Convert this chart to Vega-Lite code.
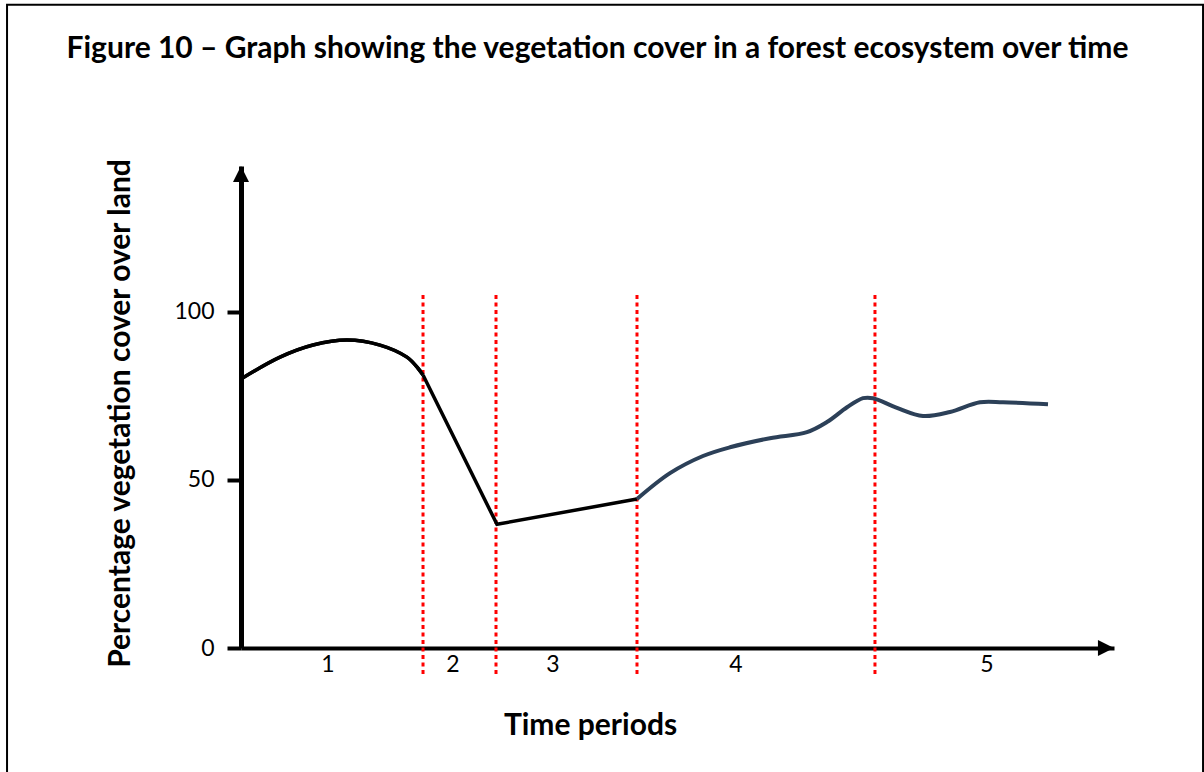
{
  "$schema": "https://vega.github.io/schema/vega-lite/v6.json",
  "width": 873,
  "height": 482,
  "autosize": {"type": "none"},
  "padding": {"left": 241, "top": 166, "right": 90, "bottom": 124},
  "background": "white",
  "config": {"view": {"stroke": null}},
  "title": {
    "text": "Figure 10 – Graph showing the vegetation cover in a forest ecosystem over time",
    "font": "Lato",
    "fontSize": 30,
    "fontWeight": "bold",
    "color": "black",
    "anchor": "middle",
    "frame": "group",
    "baseline": "alphabetic",
    "dx": -80,
    "offset": -84
  },
  "datasets": {
    "curveA": [
      {"t": 0, "v": 80.0},
      {"t": 4.47, "v": 86.5},
      {"t": 8.25, "v": 90.1},
      {"t": 12.14, "v": 91.6},
      {"t": 15.92, "v": 90.1},
      {"t": 19.01, "v": 86.5},
      {"t": 20.27, "v": 83.2},
      {"t": 20.85, "v": 81.2}
    ],
    "lineB": [
      {"t": 20.85, "v": 81.2},
      {"t": 29.32, "v": 36.8},
      {"t": 45.36, "v": 44.3}
    ],
    "curveC": [
      {"t": 45.36, "v": 44.3},
      {"t": 49.14, "v": 52.0},
      {"t": 52.92, "v": 57.1},
      {"t": 56.01, "v": 59.7},
      {"t": 60.59, "v": 62.4},
      {"t": 64.83, "v": 64.2},
      {"t": 67.12, "v": 67.2},
      {"t": 69.42, "v": 71.6},
      {"t": 71.25, "v": 74.3},
      {"t": 72.39, "v": 74.3},
      {"t": 75.14, "v": 71.4},
      {"t": 78.12, "v": 69.0},
      {"t": 81.21, "v": 70.2},
      {"t": 84.65, "v": 73.1},
      {"t": 87.29, "v": 73.1},
      {"t": 92.44, "v": 72.5}
    ],
    "dividers": [
      {"t": 20.85},
      {"t": 29.21},
      {"t": 45.36},
      {"t": 72.62}
    ],
    "periods": [
      {"t": 9.97, "v": 0, "label": "1"},
      {"t": 24.28, "v": 0, "label": "2"},
      {"t": 35.74, "v": 0, "label": "3"},
      {"t": 56.70, "v": 0, "label": "4"},
      {"t": 85.45, "v": 0, "label": "5"}
    ]
  },
  "layer": [
    {
      "data": {"name": "curveA"},
      "mark": {"type": "line", "color": "black", "strokeWidth": 3.5, "interpolate": "catmull-rom"},
      "encoding": {
        "x": {
          "field": "t",
          "type": "quantitative",
          "scale": {"domain": [0, 100], "nice": false, "zero": false},
          "axis": {
            "title": "Time periods",
            "titleFont": "Lato",
            "titleFontSize": 30,
            "titleFontWeight": "bold",
            "titleColor": "black",
            "titleX": 349,
            "titleY": 77,
            "titleBaseline": "middle",
            "titleAlign": "center",
            "ticks": false,
            "labels": false,
            "grid": false,
            "domainColor": "black",
            "domainWidth": 4
          }
        },
        "y": {
          "field": "v",
          "type": "quantitative",
          "scale": {"domain": [0, 143.36], "nice": false, "zero": false},
          "axis": {
            "title": "Percentage vegetation cover over land",
            "titleFont": "Lato",
            "titleFontSize": 30,
            "titleFontWeight": "bold",
            "titleColor": "black",
            "titleX": -121,
            "titleY": 247,
            "titleAngle": -90,
            "titleBaseline": "middle",
            "titleAlign": "center",
            "values": [0, 50, 100],
            "tickSize": 14,
            "tickWidth": 4,
            "tickColor": "black",
            "labelFont": "Lato",
            "labelFontSize": 23,
            "labelColor": "black",
            "labelPadding": 13,
            "grid": false,
            "domainColor": "black",
            "domainWidth": 5
          }
        }
      }
    },
    {
      "data": {"values": [{}]},
      "mark": {"type": "rect", "fillOpacity": 0, "stroke": "black", "strokeWidth": 2},
      "encoding": {
        "x": {"datum": -26.8},
        "x2": {"datum": 110.2},
        "y": {"datum": 191.3},
        "y2": {"datum": -45}
      }
    },
    {
      "data": {"name": "dividers"},
      "mark": {"type": "rule", "color": "#ff0000", "strokeWidth": 3, "strokeDash": [4, 3.5]},
      "encoding": {
        "x": {"field": "t", "type": "quantitative"},
        "y": {"datum": 105},
        "y2": {"datum": -7.8}
      }
    },
    {
      "data": {"name": "curveA"},
      "mark": {"type": "line", "color": "black", "strokeWidth": 3.5, "interpolate": "catmull-rom"},
      "encoding": {
        "x": {"field": "t", "type": "quantitative"},
        "y": {"field": "v", "type": "quantitative"}
      }
    },
    {
      "data": {"name": "lineB"},
      "mark": {"type": "line", "color": "black", "strokeWidth": 3.5, "interpolate": "linear"},
      "encoding": {
        "x": {"field": "t", "type": "quantitative"},
        "y": {"field": "v", "type": "quantitative"}
      }
    },
    {
      "data": {"name": "curveC"},
      "mark": {"type": "line", "color": "#2c4058", "strokeWidth": 4, "interpolate": "catmull-rom"},
      "encoding": {
        "x": {"field": "t", "type": "quantitative"},
        "y": {"field": "v", "type": "quantitative"}
      }
    },
    {
      "data": {"name": "periods"},
      "mark": {"type": "text", "font": "Lato", "fontSize": 23, "color": "black", "baseline": "middle", "align": "center", "dy": 17},
      "encoding": {
        "x": {"field": "t", "type": "quantitative"},
        "y": {"field": "v", "type": "quantitative"},
        "text": {"field": "label"}
      }
    },
    {
      "data": {"values": [{}]},
      "mark": {"type": "point", "shape": "M0,-1L1,1L-1,1Z", "size": 256, "filled": true, "color": "black", "opacity": 1},
      "encoding": {"x": {"datum": 0}, "y": {"datum": 140.98}}
    },
    {
      "data": {"values": [{}]},
      "mark": {"type": "point", "shape": "M1,0L-1,-1L-1,1Z", "size": 256, "filled": true, "color": "black", "opacity": 1},
      "encoding": {"x": {"datum": 99.08}, "y": {"datum": 0}}
    }
  ]
}
